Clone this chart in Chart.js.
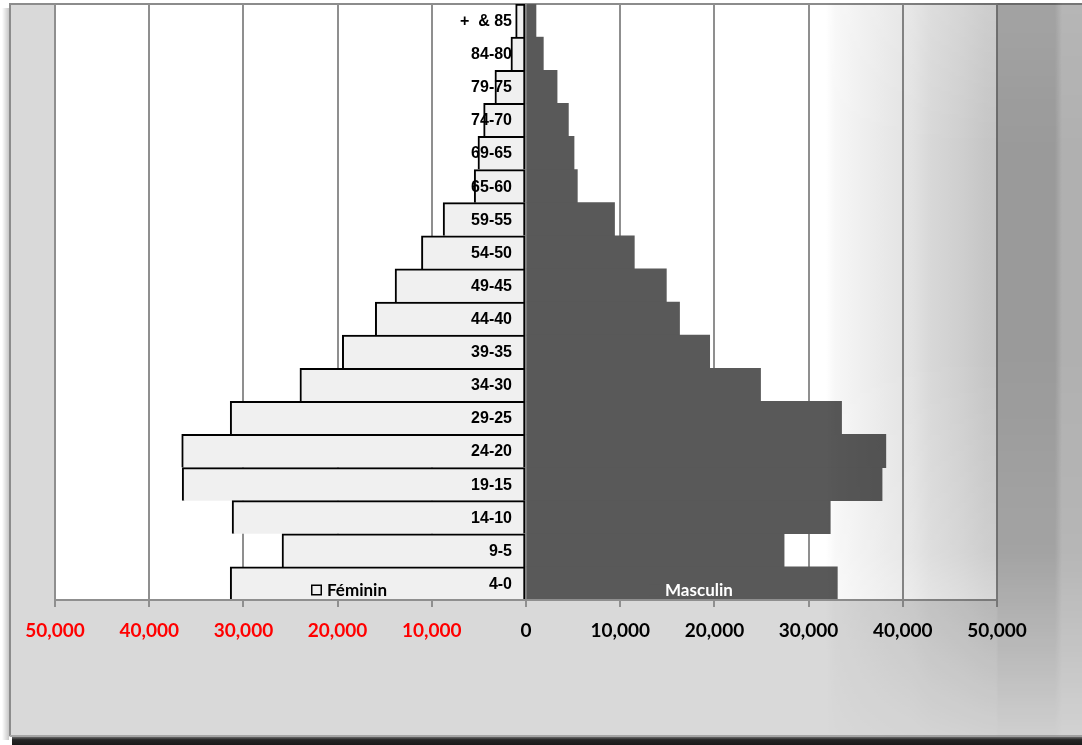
<!DOCTYPE html>
<html><head><meta charset="utf-8">
<script src="https://cdn.jsdelivr.net/npm/chart.js@4/dist/chart.umd.min.js"></script>
<style>html,body{margin:0;padding:0;background:#fff;overflow:hidden}canvas{display:block}</style>
</head><body>
<canvas id="c" width="1082" height="745"></canvas>
<script>
// ---- data ----
const ageGroups = ['+  & 85','84-80','79-75','74-70','69-65','65-60','59-55','54-50','49-45','44-40','39-35','34-30','29-25','24-20','19-15','14-10','9-5','4-0'];
const feminin  = [1100,1600,3300,4500,5100,5500,8800,11100,13900,16000,19500,24000,31400,36550,36500,31200,25900,31400];
const masculin = [1060,1840,3300,4500,5100,5450,9400,11500,14900,16300,19500,24900,33500,38200,37800,32300,27400,33050];
const seriesNames = ['Féminin','Masculin'];
const xTickValues = [-50000,-40000,-30000,-20000,-10000,0,10000,20000,30000,40000,50000];

const framePlugin = {
  id: 'frame',
  beforeDraw(chart) {
    const ctx = chart.ctx, W = chart.width, H = chart.height, ca = chart.chartArea;
    ctx.save();
    ctx.fillStyle = '#ffffff'; ctx.fillRect(0, 0, W, H);
    let g = ctx.createLinearGradient(2, 0, 9, 0);
    g.addColorStop(0, 'rgba(0,0,0,0)'); g.addColorStop(1, 'rgba(0,0,0,0.22)');
    ctx.fillStyle = g; ctx.fillRect(2, 8, 7, 732);
    g = ctx.createLinearGradient(0, 737, 0, 745);
    g.addColorStop(0, '#6a6a6a'); g.addColorStop(0.35, '#262626'); g.addColorStop(1, '#1a1a1a');
    ctx.fillStyle = g; ctx.fillRect(12, 737, W - 12, 8);
    ctx.fillStyle = '#d9d9d9'; ctx.fillRect(9, 3, W - 9, 734);
    ctx.fillStyle = '#ffffff'; ctx.fillRect(ca.left, ca.top, ca.right - ca.left, ca.bottom - ca.top);
    ctx.strokeStyle = '#8c8c8c'; ctx.lineWidth = 2;
    ctx.beginPath(); ctx.moveTo(W, 4); ctx.lineTo(10, 4); ctx.lineTo(10, 736); ctx.stroke();
    ctx.strokeStyle = '#a6a6a6';
    ctx.beginPath(); ctx.moveTo(10, 736); ctx.lineTo(W, 736); ctx.stroke();
    ctx.restore();
  }
};

// category labels drawn at the zero line, over the bars
const categoryLabelPlugin = {
  id: 'categoryLabels',
  afterDatasetsDraw(chart) {
    const ctx = chart.ctx, xs = chart.scales.x, ys = chart.scales.y;
    const x = xs.getPixelForValue(0) - 14;
    ctx.save();
    ctx.font = "bold 16px 'Liberation Sans', Arial, sans-serif";
    ctx.fillStyle = '#000000'; ctx.textAlign = 'right'; ctx.textBaseline = 'middle';
    chart.data.labels.forEach((lab, i) => ctx.fillText(lab, x, ys.getPixelForTick(i) + 1));
    ctx.restore();
  }
};

const legendPlugin = {
  id: 'inlineLegend',
  afterDatasetsDraw(chart) {
    const ctx = chart.ctx, ca = chart.chartArea;
    const cx = (ca.left + ca.right) / 2, y = ca.bottom - 10;
    const ds = chart.data.datasets;
    const items = [{dx: -215, ds: ds[0], text: '#000000', stroke: true}, {dx: 123, ds: ds[1], text: '#ffffff', stroke: false}];
    ctx.save();
    ctx.font = 'bold 17px Lato';
    ctx.textBaseline = 'middle'; ctx.textAlign = 'left';
    items.forEach(it => {
      const bx = cx + it.dx;
      ctx.fillStyle = it.ds.backgroundColor;
      ctx.fillRect(bx, y - 5.5, 11, 11);
      if (it.stroke) { ctx.strokeStyle = '#000'; ctx.lineWidth = 1.5; ctx.strokeRect(bx + 0.75, y - 4.75, 9.5, 9.5); }
      ctx.fillStyle = it.text;
      ctx.fillText(it.ds.label, bx + 16, y + 1);
    });
    ctx.restore();
  }
};

const overlayPlugin = {
  id: 'shade',
  afterDraw(chart) {
    const ctx = chart.ctx, W = chart.width, H = chart.height;
    const x0 = 826, span = W - x0;
    const off = document.createElement('canvas'); off.width = W; off.height = H;
    const o = off.getContext('2d');
    const stops = [[826,255],[835,247],[865,238],[895,230],[912,226],[930,216],[960,207],[985,198],[996,196],[998.5,181],[1055,181],[1062,207],[1082,207]];
    const g = o.createLinearGradient(x0, 0, W, 0);
    stops.forEach(([x, v]) => g.addColorStop(Math.min(1, Math.max(0, (x - x0) / span)), `rgb(${v},${v},${v})`));
    o.fillStyle = g; o.fillRect(x0, 3, span, 734);
    o.globalCompositeOperation = 'destination-in';
    const m = o.createLinearGradient(0, 0, 0, 737);
    m.addColorStop(0, 'rgba(0,0,0,0.85)'); m.addColorStop(0.2, 'rgba(0,0,0,1)'); m.addColorStop(0.48, 'rgba(0,0,0,1)');
    m.addColorStop(0.75, 'rgba(0,0,0,0.85)'); m.addColorStop(0.88, 'rgba(0,0,0,0.5)'); m.addColorStop(1, 'rgba(0,0,0,0.15)');
    o.fillStyle = m; o.fillRect(0, 0, W, H);
    ctx.save();
    ctx.globalCompositeOperation = 'multiply';
    ctx.drawImage(off, 0, 0);
    ctx.restore();
  }
};

new Chart(document.getElementById('c'), {
  type: 'bar',
  data: {
    labels: ageGroups,
    datasets: [
      {label: seriesNames[0], data: feminin.map(v => -v), backgroundColor: '#f0f0f0', borderColor: '#000000', borderWidth: 2, borderSkipped: 'bottom'},
      {label: seriesNames[1], data: masculin, backgroundColor: '#595959', borderWidth: 0}
    ]
  },
  options: {
    indexAxis: 'y', responsive: false, animation: false, devicePixelRatio: 1,
    layout: {autoPadding: false, padding: {left: 55, right: 85, top: 4, bottom: 0}},
    datasets: {bar: {barPercentage: 1, categoryPercentage: 1}},
    plugins: {legend: {display: false}, tooltip: {enabled: false}},
    scales: {
      x: {
        type: 'linear', min: -50000, max: 50000, stacked: true, position: 'bottom',
        afterFit: s => { s.height = 145; },
        afterBuildTicks: s => { s.ticks = xTickValues.map(v => ({value: v})); },
        grid: {color: '#8f8f8f', lineWidth: 2, tickLength: 7},
        border: {color: '#8f8f8f', width: 2, z: 1},
        ticks: {padding: 12, autoSkip: false, maxRotation: 0,
          color: c => (c.tick && c.tick.value < 0) ? '#ff0000' : '#000000',
          font: {family: 'Lato', weight: 'bold', size: 19},
          callback: v => Math.abs(v).toLocaleString('en-US')}
      },
      y: {
        type: 'category', stacked: true, display: false, offset: true
      }
    }
  },
  plugins: [framePlugin, categoryLabelPlugin, legendPlugin, overlayPlugin]
});
</script>
</body></html>
